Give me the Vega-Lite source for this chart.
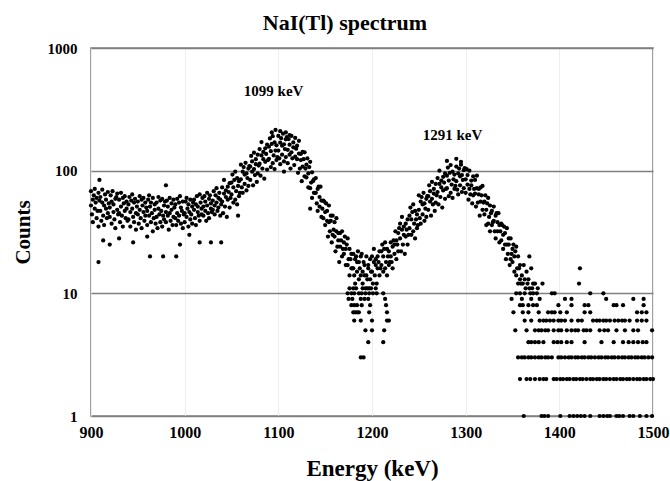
{
"$schema": "https://vega.github.io/schema/vega-lite/v6.json",
"width": 562, "height": 368,
"autosize": "none",
"padding": {"left": 91, "top": 48, "right": 17, "bottom": 65},
"background": "white",
"config": {"view": {"stroke": "#808080", "strokeWidth": 1.5}, "font": "Liberation Serif"},
"title": {"text": "NaI(Tl) spectrum", "fontSize": 22, "fontWeight": "bold", "font": "Liberation Serif", "color": "black", "anchor": "middle", "frame": "group", "dx": -27, "offset": 6},
"layer": [
{
"data": {"values": [
{"e":900,"c":52},{"e":900,"c":68},{"e":901,"c":44},{"e":902,"c":58},{"e":902,"c":38},{"e":903,"c":63},{"e":904,"c":49},{"e":904,"c":71},{"e":905,"c":55},{"e":906,"c":41},{"e":906,"c":60},{"e":907,"c":47},{"e":908,"c":66},{"e":908,"c":35},{"e":909,"c":57},
{"e":910,"c":47},{"e":910,"c":61},{"e":911,"c":39},{"e":912,"c":55},{"e":912,"c":70},{"e":913,"c":43},{"e":914,"c":52},{"e":914,"c":36},{"e":915,"c":64},{"e":916,"c":49},{"e":916,"c":58},{"e":917,"c":41},{"e":918,"c":67},{"e":918,"c":45},{"e":919,"c":54},
{"e":920,"c":50},{"e":920,"c":42},{"e":921,"c":63},{"e":922,"c":37},{"e":922,"c":56},{"e":923,"c":68},{"e":924,"c":46},{"e":924,"c":53},{"e":925,"c":40},{"e":926,"c":59},{"e":926,"c":34},{"e":927,"c":61},{"e":928,"c":48},{"e":928,"c":65},{"e":929,"c":44},
{"e":930,"c":45},{"e":930,"c":58},{"e":931,"c":38},{"e":932,"c":66},{"e":932,"c":51},{"e":933,"c":43},{"e":934,"c":60},{"e":934,"c":35},{"e":935,"c":54},{"e":936,"c":47},{"e":936,"c":62},{"e":937,"c":41},{"e":938,"c":56},{"e":938,"c":49},{"e":939,"c":39},
{"e":940,"c":53},{"e":940,"c":40},{"e":941,"c":61},{"e":942,"c":46},{"e":942,"c":35},{"e":943,"c":57},{"e":944,"c":49},{"e":944,"c":64},{"e":945,"c":42},{"e":946,"c":55},{"e":946,"c":38},{"e":947,"c":59},{"e":948,"c":45},{"e":948,"c":33},{"e":949,"c":51},
{"e":950,"c":44},{"e":950,"c":56},{"e":951,"c":37},{"e":952,"c":62},{"e":952,"c":48},{"e":953,"c":41},{"e":954,"c":58},{"e":954,"c":34},{"e":955,"c":52},{"e":956,"c":46},{"e":956,"c":60},{"e":957,"c":39},{"e":958,"c":55},{"e":958,"c":43},{"e":959,"c":50},
{"e":960,"c":47},{"e":960,"c":36},{"e":961,"c":58},{"e":962,"c":43},{"e":962,"c":63},{"e":963,"c":51},{"e":964,"c":38},{"e":964,"c":55},{"e":965,"c":45},{"e":966,"c":32},{"e":966,"c":60},{"e":967,"c":41},{"e":968,"c":53},{"e":968,"c":48},{"e":969,"c":37},
{"e":970,"c":42},{"e":970,"c":55},{"e":971,"c":34},{"e":972,"c":49},{"e":972,"c":61},{"e":973,"c":44},{"e":974,"c":38},{"e":974,"c":57},{"e":975,"c":47},{"e":976,"c":35},{"e":976,"c":59},{"e":977,"c":43},{"e":978,"c":52},{"e":978,"c":40},{"e":979,"c":56},
{"e":980,"c":46},{"e":980,"c":38},{"e":981,"c":57},{"e":982,"c":43},{"e":982,"c":51},{"e":983,"c":33},{"e":984,"c":60},{"e":984,"c":45},{"e":985,"c":39},{"e":986,"c":54},{"e":986,"c":48},{"e":987,"c":36},{"e":988,"c":58},{"e":988,"c":42},{"e":989,"c":50},
{"e":990,"c":41},{"e":990,"c":53},{"e":991,"c":36},{"e":992,"c":59},{"e":992,"c":45},{"e":993,"c":39},{"e":994,"c":55},{"e":994,"c":43},{"e":995,"c":62},{"e":996,"c":37},{"e":996,"c":50},{"e":997,"c":47},{"e":998,"c":34},{"e":998,"c":56},{"e":999,"c":44},
{"e":1000,"c":45},{"e":1000,"c":38},{"e":1001,"c":56},{"e":1002,"c":42},{"e":1002,"c":60},{"e":1003,"c":49},{"e":1004,"c":35},{"e":1004,"c":53},{"e":1005,"c":46},{"e":1006,"c":40},{"e":1006,"c":58},{"e":1007,"c":44},{"e":1008,"c":51},{"e":1008,"c":37},{"e":1009,"c":55},
{"e":1010,"c":48},{"e":1010,"c":58},{"e":1011,"c":41},{"e":1012,"c":53},{"e":1012,"c":36},{"e":1013,"c":62},{"e":1014,"c":46},{"e":1014,"c":51},{"e":1015,"c":43},{"e":1016,"c":64},{"e":1016,"c":39},{"e":1017,"c":55},{"e":1018,"c":49},{"e":1018,"c":44},{"e":1019,"c":60},
{"e":1020,"c":51},{"e":1020,"c":43},{"e":1021,"c":62},{"e":1022,"c":47},{"e":1022,"c":56},{"e":1023,"c":39},{"e":1024,"c":66},{"e":1024,"c":52},{"e":1025,"c":45},{"e":1026,"c":59},{"e":1026,"c":41},{"e":1027,"c":63},{"e":1028,"c":49},{"e":1028,"c":54},{"e":1029,"c":46},
{"e":1030,"c":57},{"e":1030,"c":48},{"e":1031,"c":68},{"e":1032,"c":52},{"e":1032,"c":44},{"e":1033,"c":63},{"e":1034,"c":55},{"e":1034,"c":72},{"e":1035,"c":47},{"e":1036,"c":60},{"e":1036,"c":50},{"e":1037,"c":66},{"e":1038,"c":43},{"e":1038,"c":58},{"e":1039,"c":53},
{"e":1040,"c":56},{"e":1040,"c":73},{"e":1041,"c":45},{"e":1042,"c":65},{"e":1042,"c":84},{"e":1043,"c":51},{"e":1044,"c":61},{"e":1044,"c":69},{"e":1045,"c":42},{"e":1046,"c":74},{"e":1046,"c":58},{"e":1047,"c":67},{"e":1048,"c":50},{"e":1048,"c":79},{"e":1049,"c":60},
{"e":1050,"c":80},{"e":1050,"c":64},{"e":1051,"c":93},{"e":1052,"c":55},{"e":1052,"c":73},{"e":1053,"c":84},{"e":1054,"c":58},{"e":1054,"c":98},{"e":1055,"c":68},{"e":1056,"c":53},{"e":1056,"c":87},{"e":1057,"c":75},{"e":1058,"c":62},{"e":1058,"c":82},{"e":1059,"c":66},
{"e":1060,"c":85},{"e":1060,"c":112},{"e":1061,"c":73},{"e":1062,"c":98},{"e":1062,"c":66},{"e":1063,"c":107},{"e":1064,"c":93},{"e":1064,"c":78},{"e":1065,"c":116},{"e":1066,"c":69},{"e":1066,"c":95},{"e":1067,"c":87},{"e":1068,"c":104},{"e":1068,"c":75},{"e":1069,"c":109},
{"e":1070,"c":108},{"e":1070,"c":84},{"e":1071,"c":132},{"e":1072,"c":98},{"e":1072,"c":119},{"e":1073,"c":76},{"e":1074,"c":140},{"e":1074,"c":103},{"e":1075,"c":92},{"e":1076,"c":124},{"e":1076,"c":113},{"e":1077,"c":81},{"e":1078,"c":135},{"e":1078,"c":95},{"e":1079,"c":110},
{"e":1080,"c":114},{"e":1080,"c":150},{"e":1081,"c":91},{"e":1082,"c":133},{"e":1082,"c":171},{"e":1083,"c":104},{"e":1084,"c":124},{"e":1084,"c":142},{"e":1085,"c":86},{"e":1086,"c":152},{"e":1086,"c":118},{"e":1087,"c":137},{"e":1088,"c":102},{"e":1088,"c":163},{"e":1089,"c":122},
{"e":1090,"c":157},{"e":1090,"c":125},{"e":1091,"c":183},{"e":1092,"c":107},{"e":1092,"c":144},{"e":1093,"c":165},{"e":1094,"c":115},{"e":1094,"c":191},{"e":1095,"c":133},{"e":1096,"c":103},{"e":1096,"c":170},{"e":1097,"c":146},{"e":1098,"c":122},{"e":1098,"c":161},{"e":1099,"c":129},
{"e":1100,"c":146},{"e":1100,"c":192},{"e":1101,"c":126},{"e":1102,"c":169},{"e":1102,"c":113},{"e":1103,"c":184},{"e":1104,"c":160},{"e":1104,"c":135},{"e":1105,"c":200},{"e":1106,"c":119},{"e":1106,"c":164},{"e":1107,"c":150},{"e":1108,"c":180},{"e":1108,"c":129},{"e":1109,"c":188},
{"e":1110,"c":148},{"e":1110,"c":115},{"e":1111,"c":181},{"e":1112,"c":135},{"e":1112,"c":163},{"e":1113,"c":104},{"e":1114,"c":192},{"e":1114,"c":141},{"e":1115,"c":126},{"e":1116,"c":170},{"e":1116,"c":155},{"e":1117,"c":111},{"e":1118,"c":185},{"e":1118,"c":130},{"e":1119,"c":151},
{"e":1120,"c":124},{"e":1120,"c":160},{"e":1121,"c":96},{"e":1122,"c":138},{"e":1122,"c":175},{"e":1123,"c":104},{"e":1124,"c":122},{"e":1124,"c":137},{"e":1125,"c":82},{"e":1126,"c":142},{"e":1126,"c":108},{"e":1127,"c":124},{"e":1128,"c":90},{"e":1128,"c":141},{"e":1129,"c":104},
{"e":1130,"c":112},{"e":1130,"c":88},{"e":1131,"c":126},{"e":1132,"c":73},{"e":1132,"c":95},{"e":1133,"c":107},{"e":1134,"c":72},{"e":1134,"c":118},{"e":1135,"c":80},{"e":1136,"c":60},{"e":1136,"c":97},{"e":1137,"c":82},{"e":1138,"c":66},{"e":1138,"c":85},{"e":1139,"c":66},
{"e":1140,"c":66},{"e":1140,"c":87},{"e":1141,"c":54},{"e":1142,"c":71},{"e":1142,"c":47},{"e":1143,"c":74},{"e":1144,"c":61},{"e":1144,"c":51},{"e":1145,"c":74},{"e":1146,"c":42},{"e":1146,"c":57},{"e":1147,"c":49},{"e":1148,"c":57},{"e":1148,"c":41},{"e":1149,"c":56},
{"e":1150,"c":46},{"e":1150,"c":36},{"e":1151,"c":54},{"e":1152,"c":39},{"e":1152,"c":47},{"e":1153,"c":29},{"e":1154,"c":52},{"e":1154,"c":38},{"e":1155,"c":32},{"e":1156,"c":43},{"e":1156,"c":39},{"e":1157,"c":26},{"e":1158,"c":43},{"e":1158,"c":30},{"e":1159,"c":33},
{"e":1160,"c":29},{"e":1160,"c":38},{"e":1161,"c":22},{"e":1162,"c":32},{"e":1162,"c":41},{"e":1163,"c":24},{"e":1164,"c":27},{"e":1164,"c":31},{"e":1165,"c":18},{"e":1166,"c":31},{"e":1166,"c":24},{"e":1167,"c":27},{"e":1168,"c":20},{"e":1168,"c":32},{"e":1169,"c":23},
{"e":1170,"c":26},{"e":1170,"c":21},{"e":1171,"c":29},{"e":1172,"c":17},{"e":1172,"c":23},{"e":1173,"c":25},{"e":1174,"c":17},{"e":1174,"c":28},{"e":1175,"c":19},{"e":1176,"c":14},{"e":1176,"c":23},{"e":1177,"c":19},{"e":1178,"c":16},{"e":1178,"c":21},{"e":1179,"c":16},
{"e":1180,"c":16},{"e":1180,"c":21},{"e":1181,"c":14},{"e":1182,"c":19},{"e":1182,"c":12},{"e":1183,"c":20},{"e":1184,"c":18},{"e":1184,"c":15},{"e":1185,"c":22},{"e":1186,"c":13},{"e":1186,"c":18},{"e":1187,"c":16},{"e":1188,"c":20},{"e":1188,"c":14},{"e":1189,"c":21},
{"e":1190,"c":15},{"e":1190,"c":12},{"e":1191,"c":18},{"e":1192,"c":14},{"e":1192,"c":17},{"e":1193,"c":11},{"e":1194,"c":20},{"e":1194,"c":14},{"e":1195,"c":13},{"e":1196,"c":17},{"e":1196,"c":16},{"e":1197,"c":11},{"e":1198,"c":19},{"e":1198,"c":13},{"e":1199,"c":15},
{"e":1200,"c":15},{"e":1200,"c":20},{"e":1201,"c":12},{"e":1202,"c":18},{"e":1202,"c":23},{"e":1203,"c":14},{"e":1204,"c":17},{"e":1204,"c":19},{"e":1205,"c":12},{"e":1206,"c":20},{"e":1206,"c":16},{"e":1207,"c":18},{"e":1208,"c":14},{"e":1208,"c":22},{"e":1209,"c":16},
{"e":1210,"c":22},{"e":1210,"c":17},{"e":1211,"c":25},{"e":1212,"c":15},{"e":1212,"c":20},{"e":1213,"c":23},{"e":1214,"c":16},{"e":1214,"c":26},{"e":1215,"c":18},{"e":1216,"c":14},{"e":1216,"c":23},{"e":1217,"c":20},{"e":1218,"c":17},{"e":1218,"c":22},{"e":1219,"c":18},
{"e":1220,"c":20},{"e":1220,"c":26},{"e":1221,"c":18},{"e":1222,"c":24},{"e":1222,"c":16},{"e":1223,"c":27},{"e":1224,"c":25},{"e":1224,"c":21},{"e":1225,"c":32},{"e":1226,"c":19},{"e":1226,"c":27},{"e":1227,"c":25},{"e":1228,"c":31},{"e":1228,"c":22},{"e":1229,"c":34},
{"e":1230,"c":28},{"e":1230,"c":37},{"e":1231,"c":22},{"e":1232,"c":33},{"e":1232,"c":42},{"e":1233,"c":25},{"e":1234,"c":30},{"e":1234,"c":35},{"e":1235,"c":21},{"e":1236,"c":37},{"e":1236,"c":29},{"e":1237,"c":33},{"e":1238,"c":25},{"e":1238,"c":40},{"e":1239,"c":30},
{"e":1240,"c":43},{"e":1240,"c":34},{"e":1241,"c":50},{"e":1242,"c":30},{"e":1242,"c":40},{"e":1243,"c":46},{"e":1244,"c":32},{"e":1244,"c":53},{"e":1245,"c":37},{"e":1246,"c":28},{"e":1246,"c":47},{"e":1247,"c":40},{"e":1248,"c":34},{"e":1248,"c":44},{"e":1249,"c":36},
{"e":1250,"c":48},{"e":1250,"c":63},{"e":1251,"c":41},{"e":1252,"c":56},{"e":1252,"c":37},{"e":1253,"c":61},{"e":1254,"c":53},{"e":1254,"c":44},{"e":1255,"c":66},{"e":1256,"c":39},{"e":1256,"c":54},{"e":1257,"c":49},{"e":1258,"c":59},{"e":1258,"c":42},{"e":1259,"c":62},
{"e":1260,"c":62},{"e":1260,"c":48},{"e":1261,"c":76},{"e":1262,"c":56},{"e":1262,"c":68},{"e":1263,"c":43},{"e":1264,"c":81},{"e":1264,"c":59},{"e":1265,"c":53},{"e":1266,"c":71},{"e":1266,"c":65},{"e":1267,"c":47},{"e":1268,"c":78},{"e":1268,"c":55},{"e":1269,"c":63},
{"e":1270,"c":67},{"e":1270,"c":87},{"e":1271,"c":53},{"e":1272,"c":78},{"e":1272,"c":100},{"e":1273,"c":61},{"e":1274,"c":73},{"e":1274,"c":83},{"e":1275,"c":50},{"e":1276,"c":89},{"e":1276,"c":69},{"e":1277,"c":80},{"e":1278,"c":59},{"e":1278,"c":95},{"e":1279,"c":71},
{"e":1280,"c":91},{"e":1280,"c":72},{"e":1281,"c":106},{"e":1282,"c":62},{"e":1282,"c":83},{"e":1283,"c":96},{"e":1284,"c":66},{"e":1284,"c":111},{"e":1285,"c":77},{"e":1286,"c":60},{"e":1286,"c":98},{"e":1287,"c":85},{"e":1288,"c":71},{"e":1288,"c":93},{"e":1289,"c":75},
{"e":1290,"c":82},{"e":1290,"c":108},{"e":1291,"c":70},{"e":1292,"c":95},{"e":1292,"c":64},{"e":1293,"c":104},{"e":1294,"c":90},{"e":1294,"c":76},{"e":1295,"c":112},{"e":1296,"c":67},{"e":1296,"c":92},{"e":1297,"c":84},{"e":1298,"c":101},{"e":1298,"c":72},{"e":1299,"c":105},
{"e":1300,"c":85},{"e":1300,"c":66},{"e":1301,"c":103},{"e":1302,"c":77},{"e":1302,"c":92},{"e":1303,"c":58},{"e":1304,"c":100},{"e":1304,"c":71},{"e":1305,"c":64},{"e":1306,"c":83},{"e":1306,"c":76},{"e":1307,"c":54},{"e":1308,"c":90},{"e":1308,"c":63},{"e":1309,"c":71},
{"e":1310,"c":65},{"e":1310,"c":84},{"e":1311,"c":51},{"e":1312,"c":72},{"e":1312,"c":91},{"e":1313,"c":55},{"e":1314,"c":64},{"e":1314,"c":71},{"e":1315,"c":43},{"e":1316,"c":73},{"e":1316,"c":56},{"e":1317,"c":63},{"e":1318,"c":48},{"e":1318,"c":75},{"e":1319,"c":55},
{"e":1320,"c":56},{"e":1320,"c":44},{"e":1321,"c":63},{"e":1322,"c":36},{"e":1322,"c":48},{"e":1323,"c":54},{"e":1324,"c":37},{"e":1324,"c":60},{"e":1325,"c":42},{"e":1326,"c":32},{"e":1326,"c":52},{"e":1327,"c":45},{"e":1328,"c":36},{"e":1328,"c":47},{"e":1329,"c":38},
{"e":1330,"c":39},{"e":1330,"c":51},{"e":1331,"c":32},{"e":1332,"c":43},{"e":1332,"c":28},{"e":1333,"c":45},{"e":1334,"c":38},{"e":1334,"c":32},{"e":1335,"c":45},{"e":1336,"c":26},{"e":1336,"c":36},{"e":1337,"c":32},{"e":1338,"c":37},{"e":1338,"c":27},{"e":1339,"c":36},
{"e":1340,"c":30},{"e":1340,"c":23},{"e":1341,"c":35},{"e":1342,"c":25},{"e":1342,"c":31},{"e":1343,"c":19},{"e":1344,"c":34},{"e":1344,"c":25},{"e":1345,"c":21},{"e":1346,"c":28},{"e":1346,"c":25},{"e":1347,"c":17},{"e":1348,"c":28},{"e":1348,"c":19},{"e":1349,"c":21},
{"e":1350,"c":23},{"e":1350,"c":18},{"e":1351,"c":25},{"e":1352,"c":15},{"e":1352,"c":20},{"e":1353,"c":22},{"e":1354,"c":14},{"e":1354,"c":24},{"e":1355,"c":16},{"e":1356,"c":12},{"e":1356,"c":20},{"e":1357,"c":16},{"e":1358,"c":13},{"e":1358,"c":17},{"e":1359,"c":12},
{"e":1360,"c":14},{"e":1361,"c":12},{"e":1362,"c":17},{"e":1363,"c":13},{"e":1364,"c":11},{"e":1365,"c":15},{"e":1366,"c":12},{"e":1367,"c":13},{"e":1368,"c":11},{"e":1370,"c":16},{"e":1372,"c":12},{"e":1371,"c":11},{"e":1374,"c":12},{"e":1377,"c":11},{"e":1368,"c":20},{"e":1382,"c":12},{"e":1421,"c":12},{"e":1422,"c":16},
{"e":1176,"c":11},{"e":1180,"c":11},{"e":1183,"c":11},{"e":1190,"c":11},{"e":1195,"c":11},{"e":1199,"c":11},{"e":1204,"c":11},
{"e":1174,"c":10},{"e":1178,"c":10},{"e":1181,"c":10},{"e":1186,"c":10},{"e":1189,"c":10},{"e":1193,"c":10},{"e":1197,"c":10},{"e":1201,"c":10},{"e":1205,"c":10},{"e":1212,"c":10},
{"e":1175,"c":9},{"e":1179,"c":9},{"e":1188,"c":9},{"e":1192,"c":9},{"e":1196,"c":9},{"e":1214,"c":9},
{"e":1178,"c":8},{"e":1181,"c":8},{"e":1184,"c":8},{"e":1189,"c":8},{"e":1198,"c":8},{"e":1215,"c":8},
{"e":1180,"c":7},{"e":1182,"c":7},{"e":1184,"c":7},{"e":1186,"c":7},{"e":1197,"c":7},{"e":1216,"c":7},
{"e":1181,"c":6},{"e":1188,"c":6},{"e":1200,"c":6},{"e":1216,"c":6},{"e":1218,"c":6},
{"e":1193,"c":5},{"e":1200,"c":5},{"e":1213,"c":5},
{"e":1196,"c":4},{"e":1212,"c":4},
{"e":1188,"c":3},{"e":1191,"c":3},
{"e":1354,"c":10},{"e":1358,"c":10},{"e":1363,"c":10},{"e":1369,"c":10},{"e":1372,"c":10},{"e":1376,"c":10},{"e":1392,"c":10},{"e":1395,"c":10},{"e":1433,"c":10},{"e":1447,"c":10},
{"e":1349,"c":9},{"e":1360,"c":9},{"e":1370,"c":9},{"e":1379,"c":9},{"e":1406,"c":9},{"e":1413,"c":9},{"e":1450,"c":9},{"e":1479,"c":9},{"e":1490,"c":9},
{"e":1358,"c":8},{"e":1361,"c":8},{"e":1367,"c":8},{"e":1372,"c":8},{"e":1376,"c":8},{"e":1399,"c":8},{"e":1413,"c":8},{"e":1427,"c":8},{"e":1431,"c":8},{"e":1458,"c":8},{"e":1461,"c":8},{"e":1468,"c":8},{"e":1490,"c":8},
{"e":1351,"c":7},{"e":1361,"c":7},{"e":1367,"c":7},{"e":1378,"c":7},{"e":1388,"c":7},{"e":1392,"c":7},{"e":1395,"c":7},{"e":1401,"c":7},{"e":1408,"c":7},{"e":1427,"c":7},{"e":1433,"c":7},{"e":1483,"c":7},{"e":1488,"c":7},{"e":1493,"c":7},
{"e":1363,"c":6},{"e":1370,"c":6},{"e":1379,"c":6},{"e":1383,"c":6},{"e":1386,"c":6},{"e":1390,"c":6},{"e":1394,"c":6},{"e":1399,"c":6},{"e":1402,"c":6},{"e":1406,"c":6},{"e":1413,"c":6},{"e":1420,"c":6},{"e":1424,"c":6},{"e":1436,"c":6},{"e":1440,"c":6},{"e":1443,"c":6},{"e":1447,"c":6},{"e":1450,"c":6},{"e":1454,"c":6},{"e":1459,"c":6},{"e":1463,"c":6},{"e":1467,"c":6},{"e":1470,"c":6},{"e":1475,"c":6},{"e":1483,"c":6},{"e":1488,"c":6},{"e":1493,"c":6},
{"e":1353,"c":5},{"e":1365,"c":5},{"e":1374,"c":5},{"e":1378,"c":5},{"e":1381,"c":5},{"e":1385,"c":5},{"e":1388,"c":5},{"e":1394,"c":5},{"e":1399,"c":5},{"e":1402,"c":5},{"e":1408,"c":5},{"e":1413,"c":5},{"e":1417,"c":5},{"e":1420,"c":5},{"e":1426,"c":5},{"e":1429,"c":5},{"e":1433,"c":5},{"e":1443,"c":5},{"e":1448,"c":5},{"e":1452,"c":5},{"e":1461,"c":5},{"e":1470,"c":5},{"e":1479,"c":5},{"e":1484,"c":5},{"e":1499,"c":5},
{"e":1367,"c":4},{"e":1370,"c":4},{"e":1374,"c":4},{"e":1378,"c":4},{"e":1383,"c":4},{"e":1394,"c":4},{"e":1398,"c":4},{"e":1402,"c":4},{"e":1408,"c":4},{"e":1413,"c":4},{"e":1427,"c":4},{"e":1445,"c":4},{"e":1458,"c":4},{"e":1468,"c":4},{"e":1474,"c":4},{"e":1479,"c":4},{"e":1484,"c":4},{"e":1489,"c":4},{"e":1493,"c":4},
{"e":1356,"c":3},{"e":1360,"c":3},{"e":1363,"c":3},{"e":1367,"c":3},{"e":1370,"c":3},{"e":1374,"c":3},{"e":1378,"c":3},{"e":1381,"c":3},{"e":1385,"c":3},{"e":1388,"c":3},{"e":1392,"c":3},{"e":1399,"c":3},{"e":1402,"c":3},{"e":1406,"c":3},{"e":1410,"c":3},{"e":1413,"c":3},{"e":1417,"c":3},{"e":1420,"c":3},{"e":1424,"c":3},{"e":1427,"c":3},{"e":1431,"c":3},{"e":1434,"c":3},{"e":1438,"c":3},{"e":1442,"c":3},{"e":1445,"c":3},{"e":1449,"c":3},{"e":1452,"c":3},{"e":1456,"c":3},{"e":1459,"c":3},{"e":1463,"c":3},{"e":1467,"c":3},{"e":1470,"c":3},{"e":1474,"c":3},{"e":1477,"c":3},{"e":1481,"c":3},{"e":1484,"c":3},{"e":1488,"c":3},{"e":1491,"c":3},{"e":1495,"c":3},{"e":1499,"c":3},
{"e":1358,"c":2},{"e":1365,"c":2},{"e":1369,"c":2},{"e":1374,"c":2},{"e":1379,"c":2},{"e":1383,"c":2},{"e":1386,"c":2},{"e":1394,"c":2},{"e":1397,"c":2},{"e":1401,"c":2},{"e":1404,"c":2},{"e":1408,"c":2},{"e":1411,"c":2},{"e":1415,"c":2},{"e":1418,"c":2},{"e":1422,"c":2},{"e":1425,"c":2},{"e":1429,"c":2},{"e":1433,"c":2},{"e":1436,"c":2},{"e":1440,"c":2},{"e":1443,"c":2},{"e":1447,"c":2},{"e":1450,"c":2},{"e":1454,"c":2},{"e":1458,"c":2},{"e":1461,"c":2},{"e":1465,"c":2},{"e":1468,"c":2},{"e":1472,"c":2},{"e":1475,"c":2},{"e":1479,"c":2},{"e":1483,"c":2},{"e":1486,"c":2},{"e":1490,"c":2},{"e":1493,"c":2},{"e":1497,"c":2},{"e":1500,"c":2},
{"e":1362,"c":1},{"e":1381,"c":1},{"e":1384,"c":1},{"e":1388,"c":1},{"e":1401,"c":1},{"e":1411,"c":1},{"e":1415,"c":1},{"e":1419,"c":1},{"e":1423,"c":1},{"e":1427,"c":1},{"e":1433,"c":1},{"e":1443,"c":1},{"e":1447,"c":1},{"e":1451,"c":1},{"e":1454,"c":1},{"e":1461,"c":1},{"e":1464,"c":1},{"e":1468,"c":1},{"e":1475,"c":1},{"e":1479,"c":1},{"e":1486,"c":1},{"e":1493,"c":1},{"e":1499,"c":1},
{"e":908,"c":18},{"e":913,"c":27},{"e":920,"c":25},{"e":930,"c":28},{"e":945,"c":26},{"e":960,"c":29},{"e":963,"c":20},{"e":977,"c":20},{"e":980,"c":76},{"e":991,"c":20},{"e":995,"c":25},{"e":1005,"c":30},{"e":1016,"c":26},{"e":1028,"c":26},{"e":1039,"c":26},{"e":1057,"c":43},{"e":909,"c":84},{"e":1106,"c":98},{"e":1134,"c":49},{"e":1093,"c":205},{"e":1097,"c":215},{"e":1102,"c":210},{"e":1108,"c":205},{"e":1112,"c":195},{"e":1280,"c":120},{"e":1290,"c":125},{"e":1295,"c":118}
]},
"mark": {"type": "circle", "size": 18, "color": "black", "opacity": 1},
"encoding": {
"x": {"field": "e", "type": "quantitative", "scale": {"domain": [900, 1500], "nice": false},
 "axis": {"values": [900, 1000, 1100, 1200, 1300, 1400, 1500], "format": "d", "title": "Energy (keV)", "titleFontSize": 23, "titleFontWeight": "bold", "titleColor": "black", "titleFont": "Liberation Serif", "titlePadding": 17, "labelFontSize": 16, "labelFontWeight": "bold", "labelColor": "black", "labelFont": "Liberation Serif", "labelPadding": 8, "labelFlush": false, "ticks": false, "domain": false, "grid": true, "gridColor": "#eeeeee", "gridWidth": 1}},
"y": {"field": "c", "type": "quantitative", "scale": {"type": "log", "domain": [1, 1000], "nice": false},
 "axis": {"values": [1, 10, 100, 1000], "format": "d", "title": "Counts", "titleFontSize": 21, "titleFontWeight": "bold", "titleColor": "black", "titleFont": "Liberation Serif", "titlePadding": 14, "labelFontSize": 15, "labelFontWeight": "bold", "labelColor": "black", "labelFont": "Liberation Serif", "labelPadding": 14, "ticks": false, "domain": false, "grid": true, "gridColor": "#808080", "gridWidth": 1.3}}
}
},
{
"data": {"values": [{"e": 1095, "c": 445, "label": "1099 keV"}, {"e": 1286, "c": 195, "label": "1291 keV"}]},
"mark": {"type": "text", "fontSize": 15, "fontWeight": "bold", "font": "Liberation Serif", "color": "black"},
"encoding": {
"x": {"field": "e", "type": "quantitative"},
"y": {"field": "c", "type": "quantitative"},
"text": {"field": "label"}
}
}
]
}
